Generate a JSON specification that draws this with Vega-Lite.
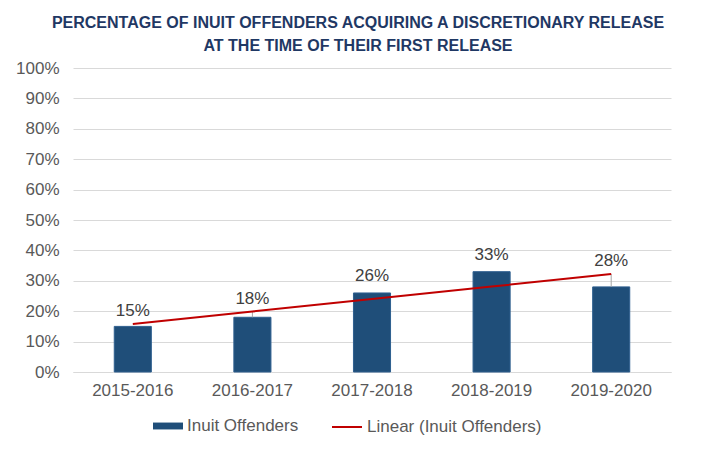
{
  "$schema": "https://vega.github.io/schema/vega-lite/v6.json",
  "autosize": "none",
  "width": 598,
  "height": 304,
  "padding": {"left": 73, "top": 68, "right": 45, "bottom": 80},
  "background": "white",
  "config": {
    "font": "Liberation Sans",
    "view": {"stroke": null}
  },
  "title": {
    "text": ["PERCENTAGE OF INUIT OFFENDERS ACQUIRING A DISCRETIONARY RELEASE", "AT THE TIME OF THEIR FIRST RELEASE"],
    "font": "Liberation Sans",
    "fontSize": 16,
    "fontWeight": "bold",
    "color": "#1F3864",
    "anchor": "middle",
    "dx": -14,
    "offset": 5,
    "lineHeight": 23
  },
  "data": {
    "values": [
      {"year": "2015-2016", "value": 0.15, "trend": 0.158},
      {"year": "2016-2017", "value": 0.18, "trend": 0.199},
      {"year": "2017-2018", "value": 0.26, "trend": 0.24},
      {"year": "2018-2019", "value": 0.33, "trend": 0.281},
      {"year": "2019-2020", "value": 0.28, "trend": 0.322}
    ]
  },
  "encoding": {
    "x": {
      "field": "year",
      "type": "nominal",
      "sort": null,
      "scale": {"paddingInner": 0.69, "paddingOuter": 0.345},
      "axis": {
        "title": null,
        "labelAngle": 0,
        "labelFontSize": 17,
        "labelColor": "#595959",
        "labelPadding": 10,
        "ticks": false,
        "domainColor": "#D9D9D9",
        "domainWidth": 1
      }
    }
  },
  "layer": [
    {
      "mark": {"type": "bar", "color": "#1F4E79", "stroke": "#2E5F8F", "strokeWidth": 1},
      "encoding": {
        "y": {
          "field": "value",
          "type": "quantitative",
          "scale": {"domain": [0, 1], "nice": false},
          "axis": {
            "title": null,
            "format": ".0%",
            "values": [0, 0.1, 0.2, 0.3, 0.4, 0.5, 0.6, 0.7, 0.8, 0.9, 1],
            "labelOverlap": false,
            "labelFontSize": 17,
            "labelColor": "#595959",
            "labelPadding": 14,
            "ticks": false,
            "domain": false,
            "gridColor": "#D9D9D9",
            "gridWidth": 1
          }
        },
        "fill": {
          "datum": "Inuit Offenders",
          "scale": {"domain": ["Inuit Offenders"], "range": ["#1F4E79"]},
          "legend": {
            "title": null,
            "orient": "none",
            "legendX": 80,
            "legendY": 343,
            "labelFontSize": 17,
            "labelColor": "#595959",
            "labelLimit": 400,
            "symbolType": "M-1,-0.23H1V0.23H-1Z",
            "symbolSize": 900,
            "symbolStrokeWidth": 0,
            "labelOffset": 4
          }
        }
      }
    },
    {
      "transform": [{"filter": "datum.trend > datum.value + 0.01"}],
      "mark": {"type": "rule", "color": "#A6A6A6", "strokeWidth": 1},
      "encoding": {
        "y": {"field": "value", "type": "quantitative", "axis": null},
        "y2": {"field": "trend"}
      }
    },
    {
      "mark": {"type": "line", "strokeWidth": 2},
      "encoding": {
        "y": {"field": "trend", "type": "quantitative", "axis": null},
        "stroke": {
          "datum": "Linear (Inuit Offenders)",
          "scale": {"domain": ["Linear (Inuit Offenders)"], "range": ["#C00000"]},
          "legend": {
            "title": null,
            "orient": "none",
            "legendX": 258,
            "legendY": 343,
            "labelFontSize": 17,
            "labelColor": "#595959",
            "labelLimit": 400,
            "symbolType": "stroke",
            "symbolSize": 900,
            "symbolStrokeWidth": 2,
            "labelOffset": 4
          }
        }
      }
    },
    {
      "transform": [{"filter": "datum.trend <= datum.value"}],
      "mark": {"type": "text", "fontSize": 17, "color": "#404040", "dy": -17},
      "encoding": {
        "y": {"field": "value", "type": "quantitative", "axis": null},
        "text": {"field": "value", "type": "quantitative", "format": ".0%"}
      }
    },
    {
      "transform": [{"filter": "datum.trend > datum.value"}],
      "mark": {"type": "text", "fontSize": 17, "color": "#404040", "dy": -13},
      "encoding": {
        "y": {"field": "trend", "type": "quantitative", "axis": null},
        "text": {"field": "value", "type": "quantitative", "format": ".0%"}
      }
    }
  ],
  "resolve": {
    "axis": {"y": "independent"},
    "legend": {"fill": "independent", "stroke": "independent"}
  }
}
